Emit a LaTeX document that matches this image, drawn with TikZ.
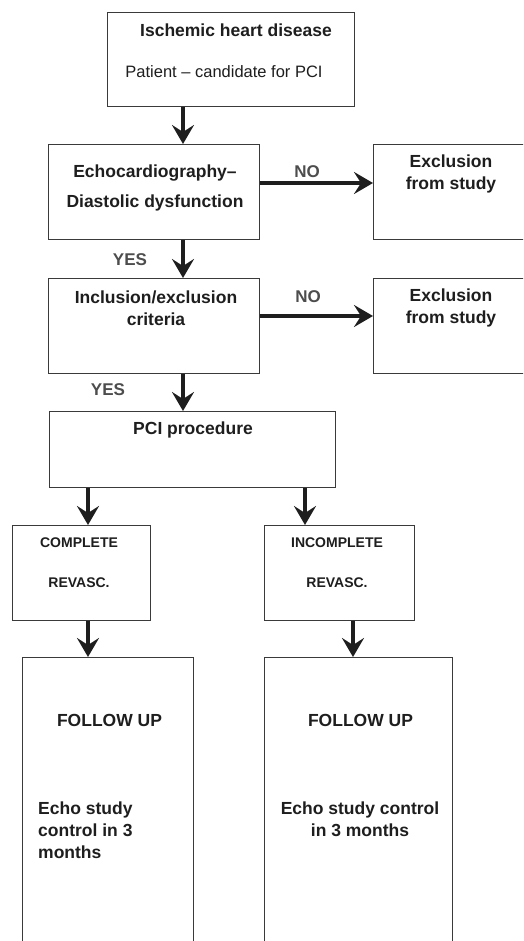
\documentclass[tikz,border=0pt]{standalone}
\usepackage{fontspec}
\setmainfont{Liberation Sans}
\usetikzlibrary{positioning, arrows.meta}

\definecolor{inkgray}{HTML}{1E1E1E}
\definecolor{labelgray}{HTML}{4D4D4D}
\definecolor{framegray}{HTML}{3A3A3A}

\begin{document}
\begin{tikzpicture}[x=1pt, y=-1pt,
  box/.style={draw=framegray, line width=1.3pt, anchor=north west, inner sep=0pt},
  txt/.style={text=inkgray, align=center, inner sep=0pt, font=\fontsize{17.5}{22}\selectfont\bfseries},
  small/.style={txt, font=\fontsize{14}{17}\selectfont\bfseries},
  answer/.style={txt, text=labelgray, font=\fontsize{17}{20}\selectfont\bfseries},
  arr/.style={draw=inkgray, line width=4.5pt, -{Stealth[length=19pt, width=22pt, inset=7pt]}}]

  \path[use as bounding box, fill=white] (0,0) rectangle (523,941);
  \clip (0,0) rectangle (523,941);

  % Boxes
  \node (ihd) [box, minimum width=247pt, minimum height=94pt] at (107,12) {};
  \node (echo) [box, minimum width=211pt, minimum height=95pt] at (48,144) {};
  \node (exclA) [box, minimum width=160pt, minimum height=95pt] at (373,144) {};
  \node (incl) [box, minimum width=211pt, minimum height=95pt] at (48,278) {};
  \node (exclB) [box, minimum width=160pt, minimum height=95pt] at (373,278) {};
  \node (pci) [box, minimum width=286pt, minimum height=76pt] at (49,411) {};
  \node (compl) [box, minimum width=138pt, minimum height=95pt] at (12,525) {};
  \node (incompl) [box, minimum width=150pt, minimum height=95pt] at (264,525) {};
  \node (followA) [box, minimum width=171pt, minimum height=300pt] at (22,657) {};
  \node (followB) [box, minimum width=188pt, minimum height=300pt] at (264,657) {};

  % Texts
  \node (ihd title) [txt] at (236,30) {Ischemic heart disease};
  \node (ihd sub) [txt, font=\fontsize{16.5}{19}\selectfont] at (224,72) {Patient -- candidate for PCI};
  \node (echo text) [txt] at (155,188) {Echocardiography--\\[8pt]Diastolic dysfunction};
  \node (exclA text) [txt] at (451,174) {Exclusion\\from study};
  \node (incl text) [txt] at (156,308) {Inclusion/exclusion\\criteria};
  \node (exclB text) [txt] at (451,308) {Exclusion\\from study};
  \node (pci text) [txt] at (193,430) {PCI procedure};
  \node (compl text) [small] at (79,563) {COMPLETE\\[23pt]REVASC.};
  \node (incompl text) [small] at (337,563) {INCOMPLETE\\[23pt]REVASC.};
  \node (followA title) [txt] at (109.5,720) {FOLLOW UP};
  \node (followA text) [txt, align=left, anchor=west] at (38,830) {Echo study\\control in 3\\months};
  \node (followB title) [txt] at (360.5,720) {FOLLOW UP};
  \node (followB text) [txt] at (360,819) {Echo study control\\in 3 months};

  % Answers
  \node (noA) [answer] at (307,172) {NO};
  \node (noB) [answer] at (308,297) {NO};
  \node (yesA) [answer] at (130,260) {YES};
  \node (yesB) [answer] at (108,390) {YES};

  % Arrows
  \coordinate (spine) at (183,0);
  \coordinate (leftline) at (88,0);
  \coordinate (midline) at (305,0);
  \coordinate (rightline) at (353,0);
  \coordinate (rowA) at (0,183);
  \coordinate (rowB) at (0,316);

  \draw[arr] (ihd.south -| spine) -- (echo.north -| spine);
  \draw[arr] (echo.south -| spine) -- (incl.north -| spine);
  \draw[arr] (incl.south -| spine) -- (pci.north -| spine);
  \draw[arr] (echo.east |- rowA) -- (exclA.west |- rowA);
  \draw[arr] (incl.east |- rowB) -- (exclB.west |- rowB);
  \draw[arr] (pci.south -| leftline) -- (compl.north -| leftline);
  \draw[arr] (pci.south -| midline) -- (incompl.north -| midline);
  \draw[arr] (compl.south -| leftline) -- (followA.north -| leftline);
  \draw[arr] (incompl.south -| rightline) -- (followB.north -| rightline);

\end{tikzpicture}
\end{document}
